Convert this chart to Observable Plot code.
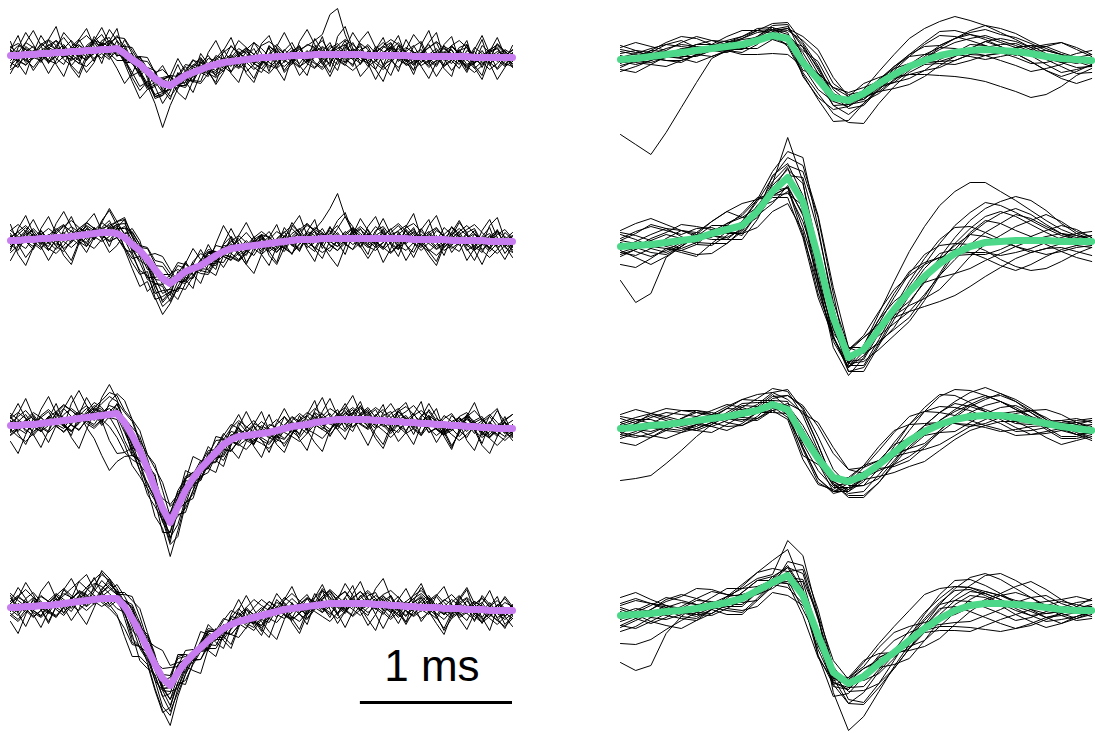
<!DOCTYPE html>
<html><head><meta charset="utf-8">
<script src="https://cdn.jsdelivr.net/npm/d3@7"></script>
<script src="https://cdn.jsdelivr.net/npm/@observablehq/plot@0.6"></script>
<style>
html,body{margin:0;padding:0;background:#fff;overflow:hidden}
#wrap{display:flex;align-items:flex-start;width:1095px;height:733px;overflow:hidden}
#wrap > svg{flex:none;max-width:none !important;height:740px !important}
</style>
</head><body><div id="wrap"></div>
<script>
// sampling interval (ms)
const leftDt = 0.05;
const rightDt = 0.1;
const rows = [0, 1, 2, 3];

// mean waveforms (0 = baseline), left column (67 samples)
const leftMean1 = [3,3,4,4,5,5,6,6,7,7,8,8,9,9,10,5,-1,-6,-13,-20,-25,-27,-22,-17,-14,-11,-8,-6,-4,-3,-2,-1,0,1,1,2,2,3,3,3,4,4,4,4,4,4,4,3,3,3,3,3,3,2,2,2,2,2,2,2,2,1,1,1,1,1,1];
const leftMean2 = [2,2,3,3,4,4,5,5,6,7,8,9,10,10,9,5,-2,-8,-17,-27,-36,-41,-35,-29,-26,-23,-18,-13,-9,-6,-5,-4,-3,-2,-1,0,1,2,3,3,3,4,4,4,4,4,4,4,4,4,4,4,4,3,3,3,3,3,2,2,2,2,2,1,1,1,1];
const leftMean3 = [1,1,2,2,3,4,5,6,7,8,9,10,11,12,13,4,-9,-24,-42,-62,-82,-96,-80,-64,-52,-42,-34,-26,-18,-13,-10,-9,-8,-7,-6,-4,-2,0,1,2,4,5,6,7,7,7,7,7,6,6,5,5,4,4,3,3,2,2,1,1,0,0,-1,-1,-2,-2,-2];
const leftMean4 = [3,3,4,4,5,5,6,7,8,9,10,11,12,12,12,4,-8,-22,-38,-54,-68,-75,-62,-52,-44,-37,-30,-24,-18,-14,-11,-9,-7,-5,-3,-1,1,2,3,4,5,6,7,7,7,7,7,7,6,6,5,5,4,4,3,3,3,2,2,2,1,1,1,0,0,0,0];

// mean waveforms, right column (32 samples)
const rightMean1 = [-1,0,2,4,6,8,10,12,14,18,23,20,-4,-21,-39,-42,-35,-25,-16,-8,-2,3,6,8,9,8,7,5,2,0,-1,-2];
const rightMean2 = [-4,-3,-2,0,2,4,9,13,17,31,51,65,41,-15,-75,-115,-107,-87,-67,-49,-34,-21,-11,-4,0,1,2,2,2,1,1,1];
const rightMean3 = [-2,-1,1,2,4,6,8,10,13,16,22,17,-9,-32,-51,-55,-49,-38,-26,-14,-5,2,7,10,11,11,9,6,3,0,-2,-4];
const rightMean4 = [-5,-4,-3,-1,0,2,5,8,12,20,28,35,15,-25,-62,-73,-66,-53,-42,-30,-18,-8,0,5,7,7,6,5,3,1,0,0];

// single-spike deviations from the mean, left column
const leftTraces1 = [
[4,-6,8,2,-9,5,12,-3,-8,6,1,-11,7,3,-5,9,-2,-12,4,8,-6,-14,3,9,-4,6,11,-2,-9,5,-7,3,10,-5,2,-8,6,13,-1,-7,4,-10,2,8,-3,-12,5,9,-6,1,12,-4,-9,3,7,-5,0,11,-2,-8,6,3,-10,5,9,-3,2],
[-3,5,-8,-2,10,4,-6,-12,2,7,-4,9,15,3,-7,-2,6,-9,-15,-4,5,2,-8,-3,7,12,-1,-6,4,-10,-3,8,1,-7,11,5,-4,-9,3,-2,7,14,2,-6,-11,4,8,-3,6,-9,-5,10,2,-7,4,12,-1,-10,-4,6,9,-5,1,-8,4,7,-2],
[9,2,-5,-13,-4,6,1,8,-3,-9,5,11,0,-6,3,-8,-16,-7,2,-3,-9,-4,6,2,-8,-12,3,7,-2,4,12,6,-5,-11,-2,5,-6,3,9,-4,-13,-3,6,11,1,-5,3,-7,-14,2,8,4,-6,10,15,-2,-8,3,-4,-12,2,6,-3,8,1,-6,-9],
[-7,-12,3,8,-2,-6,7,15,4,-3,-10,2,6,-5,8,3,-4,-10,-18,-6,4,9,-2,5,13,2,-7,3,-4,-11,5,9,-2,-8,4,12,3,-6,-12,-1,5,-3,9,4,-8,-2,11,6,-5,-12,0,7,-3,-9,2,9,14,-2,-7,5,-3,-11,-4,6,10,-1,-6],
[2,10,5,-4,3,-8,-3,4,11,2,-7,-3,9,12,-2,-9,-3,5,-7,-20,-12,-3,6,-4,-9,1,8,4,-6,2,9,-3,-11,-5,3,8,-2,4,10,-6,-3,7,-4,-10,3,12,-1,-6,9,4,-5,-12,-3,5,-6,2,8,-4,11,3,-8,-2,7,-5,-11,1,8],
[-10,-2,6,1,-5,9,3,-7,-14,-5,4,-2,-9,5,13,6,-1,8,3,-8,4,10,-5,-10,2,-3,-10,6,13,-1,-6,2,-9,-15,-3,6,1,-7,4,11,7,-4,-9,2,-5,-10,3,11,2,-4,6,13,3,-8,-2,-11,-4,5,-3,9,12,-2,-7,4,-4,8,3],
[6,-4,-11,-3,7,13,2,-5,5,12,-1,-8,-4,-10,2,7,12,4,10,6,14,8,-4,-7,5,11,-3,-8,2,7,-4,-12,-6,3,-5,-11,2,8,-3,5,-8,-13,1,6,10,-3,-9,5,-2,8,13,1,-10,-5,4,-4,-10,3,7,-5,2,-6,12,5,-2,-9,-4],
[-5,3,12,7,-2,-9,-4,3,-6,-12,2,8,3,9,-3,-6,-13,-22,-10,-16,-8,2,-5,-12,-3,4,-2,9,3,-5,6,12,4,-3,-10,-4,7,-2,-8,2,9,3,12,-4,-8,6,-1,-11,-5,3,9,-6,4,11,-2,-7,5,-9,-3,7,-4,10,4,-6,2,-8,5],
[14,-8,-20,2,18,6,-12,-24,-6,12,22,4,-14,8,20,-4,-18,-26,-10,6,-8,4,16,-6,-20,-4,14,24,6,-12,-22,-2,16,4,-14,10,24,8,-10,-20,2,18,-6,-16,6,22,10,-8,-24,-10,8,20,-2,-14,12,26,4,-12,-20,4,16,-8,-18,6,20,2,-10],
[-18,-4,12,24,8,-10,4,20,10,-8,-22,-12,6,-6,-20,-30,-14,8,-4,-18,-12,10,22,4,-10,8,-6,-18,2,16,6,-14,-24,-6,12,2,-16,-8,14,26,10,-6,-18,2,14,-4,-22,-12,6,18,-2,-16,6,22,12,-6,-20,-8,10,2,-14,8,22,4,-12,-4,12],
[6,20,-2,-16,-6,14,26,2,-14,-22,-4,14,4,20,8,-10,-22,-34,-18,-8,-20,-6,8,-10,-4,16,2,-12,12,24,4,-8,-20,-4,10,-12,-24,-2,8,-6,16,4,-12,18,28,6,-10,4,-14,-26,-6,10,-4,-18,2,14,24,-2,-14,-4,12,-10,-22,-2,14,6,-8],
[-12,8,22,10,-6,-20,-8,6,-16,-26,-8,10,22,6,-8,14,6,-6,-16,4,18,6,-12,-24,-8,10,-4,-20,-10,8,20,12,-6,14,22,2,-14,-4,-20,-10,6,-8,-22,-6,10,-2,14,24,8,-10,-20,-2,16,4,-10,-22,-6,12,20,-4,-16,2,18,-6,-22,-10,4],
[-2,-6,-10,-4,3,8,12,6,-1,-5,-9,-3,4,9,2,-6,-4,-8,-14,-25,-44,-20,-8,2,8,3,-4,-10,-6,1,7,11,4,-3,-8,-12,-5,2,6,10,14,20,40,46,20,2,-6,-3,4,9,5,-2,-8,-13,-6,1,5,10,6,-3,-9,-5,2,8,12,4,-4],
[8,12,5,-3,-7,-2,5,1,-6,-12,-16,-8,0,6,11,15,9,2,-5,-1,6,10,4,-3,-9,-14,-7,0,5,-2,-8,-3,4,12,16,9,3,-4,-11,-6,2,8,3,-5,-10,-16,-9,-2,6,13,7,-1,-6,-2,4,9,15,8,1,-4,-10,-15,-8,0,6,3,-2],
[-14,-9,-2,4,0,-7,-11,-4,3,10,15,7,-1,-8,-3,5,2,-6,-12,-18,-10,-2,5,11,6,-2,-7,-13,-8,-1,4,10,16,9,1,-5,-10,-4,3,-3,-9,-15,-7,1,7,3,-3,-8,2,10,16,11,3,-4,-9,-4,2,8,3,-5,-11,-6,1,7,13,6,0],
[5,0,-6,2,9,14,7,-2,-9,-4,3,10,6,-4,-12,-7,2,8,14,6,-3,-11,-6,3,12,7,-1,4,10,15,8,1,-5,-11,-16,-8,0,5,-1,-8,-14,-6,3,9,15,10,3,-2,-8,-14,-7,1,8,4,-3,-9,-4,4,11,16,9,2,-5,-12,-6,2,7]
];
const leftTraces2 = [
[5,-3,-9,2,8,-1,-7,4,10,3,-5,6,-2,-8,3,11,4,-6,2,-9,-15,-5,3,-4,7,12,2,-6,-1,5,-8,-3,6,10,-2,-7,3,-5,-11,2,8,-4,6,13,1,-6,-2,9,-3,-10,4,7,-5,2,11,-1,-9,-4,6,-3,8,12,-2,-7,3,-5,1],
[-8,2,7,-4,-11,3,9,1,-6,4,12,5,-3,6,-4,-10,-14,-6,-18,-8,4,9,-2,-9,3,-5,-12,-4,6,2,9,-4,-10,1,7,-3,5,12,3,-8,-3,6,-7,-12,-2,5,10,-4,3,8,-6,-11,-1,7,-3,4,11,2,-8,-2,6,-6,-12,3,9,-1,-5],
[3,9,-2,-7,5,-4,-12,-3,6,-2,-8,3,10,4,9,14,8,3,11,6,-3,5,12,3,-7,-2,5,-6,-11,-2,4,-5,3,9,-4,-10,-1,7,11,-2,-9,4,-3,6,-5,-11,3,-6,8,12,2,-7,-12,-3,5,-2,9,4,-6,-11,2,7,-4,5,11,-3,-8],
[-4,-10,3,11,2,-5,8,13,-2,-9,-3,4,-6,2,7,-2,-11,-20,-16,-24,-12,-6,-14,-5,2,-4,8,3,-5,-12,-2,6,-3,5,12,-1,-6,-13,-4,6,2,10,-3,-8,4,-2,-9,2,12,5,-4,3,-7,-13,2,8,-2,5,13,4,-5,-10,-3,6,-4,9,2],
[10,4,-3,6,-5,-12,-2,5,-4,7,3,-6,5,12,-2,2,-6,-3,-10,2,-6,-12,4,9,-3,6,-4,-10,3,8,-2,-9,5,2,-6,4,10,-5,-2,8,4,-7,-13,-2,7,1,-8,5,-3,-9,6,13,3,-4,-11,-3,4,-8,2,9,-5,3,-9,-2,7,12,3],
[-2,6,12,3,-6,2,-9,-14,-4,3,8,-3,-9,-4,5,9,13,6,-4,-14,-8,-18,-9,-3,5,-6,2,10,4,-5,-12,-4,2,-7,4,11,5,-3,3,-6,-12,2,8,-5,3,10,-2,-7,-2,6,-4,-11,4,10,-3,6,-3,-11,-5,3,-4,6,1,-8,4,-6,-11],
[7,-5,-2,-10,4,10,3,-4,-11,-5,6,2,-3,-9,-4,-12,-8,5,12,9,16,10,8,-2,4,-3,-9,-2,7,12,3,-4,9,-2,-8,-3,6,-4,-9,3,12,6,-2,3,-6,-11,-4,5,-7,2,10,-3,8,-4,-8,3,-2,12,6,-5,2,10,-3,-10,-2,4,-6],
[-6,-1,5,9,-3,-8,4,-2,2,-6,-12,-3,4,7,12,3,-4,-10,-6,-16,-22,-8,-12,-6,-10,2,-3,-8,-4,2,7,14,4,-5,3,-4,-10,2,6,-5,3,-6,11,4,-5,8,3,-8,-12,-4,2,-5,9,3,-6,7,12,2,-4,4,-10,-5,3,8,-3,2,9],
[16,-4,-18,-8,10,22,4,-12,-24,-6,12,20,2,-14,6,18,-8,-22,-32,-14,-24,-10,6,-8,-20,4,16,-2,-16,-6,12,24,8,-10,-22,-4,14,2,-12,8,20,-6,-18,-28,-8,10,-4,12,22,4,-14,-6,-22,-8,10,20,-2,-16,4,18,8,-10,-24,-6,12,-4,-16],
[-10,12,24,6,-8,-22,-10,8,20,2,-12,6,-6,-20,-12,4,16,10,-6,-20,-28,-16,-4,10,-6,-18,-4,12,26,10,-6,-18,-2,8,-12,-22,-6,14,24,4,-10,-20,-2,10,22,12,-4,-16,6,20,4,-10,12,26,2,-12,-22,-4,14,6,-8,-20,-4,16,24,2,-10],
[4,-14,-26,-8,8,-4,14,26,10,-6,-18,-4,12,22,8,-12,-24,-36,-22,-30,-18,-8,-22,-12,4,16,-2,-14,8,20,4,-16,-6,10,-8,-20,2,18,6,-10,-22,-2,12,-4,-16,4,20,8,-6,-24,-10,6,-6,-18,-2,14,24,4,-12,-2,-20,-8,10,22,4,-12,-2],
[-20,-6,8,20,4,-12,-2,-18,-28,-8,6,-6,10,24,12,20,8,-6,4,16,22,14,-4,8,20,6,-10,-20,-4,12,-6,-18,-28,-10,6,18,-2,-14,4,16,8,-10,4,18,26,6,-8,-20,-8,10,-6,-18,2,12,-4,-16,-26,-6,8,20,6,-8,4,14,-6,-18,-4],
[-6,2,9,4,-3,-10,-16,-8,1,7,12,5,-2,-9,-4,3,-5,-12,-20,-14,-6,3,-4,-12,-7,2,9,4,-3,-8,-13,-5,3,10,6,-2,-7,2,8,14,10,18,30,45,22,6,-3,-9,-4,3,9,15,7,-1,-6,-12,-5,2,8,4,-3,-9,-4,3,10,5,-2],
[10,16,8,1,-5,-1,6,12,5,-3,-9,-15,-7,2,9,4,12,6,-3,-10,-2,8,15,7,-1,-8,-14,-6,1,7,12,4,-3,-10,-4,3,9,15,7,-2,-8,-14,-9,-2,5,11,5,-2,-9,-4,2,8,13,5,-3,-10,-16,-8,0,6,11,16,8,1,-6,-1,5],
[-12,-5,3,-2,-9,-4,4,11,16,8,0,-6,2,9,3,-10,-18,-24,-12,-28,-36,-20,-10,-18,-8,1,7,2,-5,-11,-6,1,8,13,6,-1,-7,-13,-5,3,10,4,-3,-8,-2,6,12,5,-3,-9,-15,-7,1,8,3,-4,-10,-5,2,9,15,7,0,-6,-12,-4,3],
[3,9,14,6,-2,4,-4,-11,-6,2,9,3,-4,5,12,18,10,2,-6,4,12,6,-4,-10,-3,5,11,4,-3,-9,-14,-7,0,6,-1,-9,-4,4,10,16,8,1,-6,-12,-5,3,9,2,-5,-11,-4,4,11,16,8,0,-7,-2,6,12,5,-3,-10,-16,-8,1,6]
];
const leftTraces3 = [
[4,-6,3,10,-2,-9,5,12,3,-4,6,14,8,-3,10,2,-6,-2,4,-8,-12,-3,9,-4,-8,3,-6,5,11,-2,-7,4,-3,8,2,-6,-11,-3,5,9,-2,-8,3,-5,4,10,-1,-6,6,-3,-10,2,7,-4,3,-9,-3,6,12,1,-5,3,-8,5,-2,7,-4],
[-3,5,-7,-2,6,11,-3,-8,2,7,12,3,-5,-26,-40,-30,-12,-3,8,4,-6,10,14,6,-3,-10,-2,6,-4,3,9,-5,-10,2,-3,6,12,-2,-8,4,-5,3,7,-6,-12,-2,5,10,-3,4,-7,-11,2,9,-2,5,-4,-9,3,-3,8,4,-6,-10,2,6,-1],
[8,2,-5,-11,-3,4,-2,6,11,4,-3,-8,2,9,5,-8,-16,-20,-14,-10,-6,-15,-18,-9,-2,4,-3,-9,2,8,3,-5,2,-7,-12,-4,4,-3,6,12,5,-2,-9,-3,7,2,-5,4,11,-3,-9,-2,5,-5,8,12,2,-6,-3,-11,-2,4,9,-2,-8,3,-5],
[-7,-2,4,8,-4,-10,-3,3,-5,-12,-2,5,12,18,12,10,14,8,6,12,4,-2,5,12,6,-2,-8,2,-5,-12,-4,3,9,-3,6,11,2,-7,-2,-9,4,8,-4,6,12,2,-5,-10,-2,5,10,-4,-8,3,-2,7,-5,-10,4,8,-3,6,11,-2,-6,3,8],
[2,9,14,5,-3,6,-5,-11,-4,3,9,2,-6,3,-3,-10,-14,-12,-16,-10,-8,-2,-10,-18,-12,-6,2,-6,-10,3,8,-3,-9,4,-2,-7,3,10,4,-4,2,-6,-11,3,9,-2,6,12,3,-5,-12,-3,4,-4,2,8,-5,-11,-2,6,3,-7,5,11,2,-4,-9],
[-10,-4,3,-3,8,13,4,-5,-12,-2,4,8,3,6,-2,4,8,14,10,5,-4,8,16,12,4,8,-3,-10,-4,5,-2,8,14,3,-6,-2,-10,-4,3,-5,10,4,-3,-10,2,7,-4,-9,3,-2,8,13,2,-6,-10,3,-3,9,4,-5,-11,2,-4,6,-3,-8,4],
[5,-3,-9,2,6,-2,8,3,-6,-11,-3,7,2,-4,4,-6,-10,-4,-2,-8,-14,-10,-4,-12,-16,-8,-12,-3,4,-2,-9,-4,5,12,4,-3,3,-5,-12,-3,6,-2,3,10,-4,-8,2,-3,5,11,4,-4,3,-7,-12,-2,6,1,-5,4,11,5,-2,-7,2,-5,3],
[-5,4,10,-2,-8,3,-4,-12,-5,6,2,9,4,-3,-6,-18,-20,-8,-4,6,-8,-20,2,10,-4,6,3,-5,-12,-3,6,-2,-7,4,-5,-11,-2,5,-3,3,9,-4,-2,6,-5,-12,4,8,-6,2,-4,10,4,-2,5,-9,-4,3,-5,9,14,2,-4,-9,-2,6,-3],
[10,-8,-20,-4,14,26,8,-6,16,28,12,-4,18,30,14,-2,-20,-10,4,-12,-24,-10,8,20,4,-12,2,16,6,-10,-22,-6,10,22,2,-14,-24,-8,6,-6,12,24,4,-10,-20,-2,14,-4,-18,-28,-8,10,2,-12,6,20,8,-8,-22,-6,10,24,6,-10,-2,12,-6],
[-16,-28,-10,6,-6,-20,-4,12,24,6,-10,-22,-40,-56,-48,-34,-20,-10,2,14,-4,-16,-6,10,22,8,-8,-20,-6,12,22,6,-10,4,18,-4,-18,-8,10,-6,-20,-30,-10,4,16,2,-12,-26,-8,8,18,6,-10,-22,-2,14,4,-12,-24,-4,12,-2,-16,4,18,6,-8],
[8,22,6,-10,-24,-8,10,-4,-16,4,20,6,-8,12,20,22,16,20,14,24,18,6,-8,-22,-12,4,14,-2,-16,-6,10,24,8,-6,-20,-4,12,2,-14,-26,-6,10,22,4,-10,6,18,-2,-14,-24,-4,12,20,2,-12,4,16,-6,-20,-8,10,-4,-18,-26,-8,8,14],
[-6,12,26,8,-8,4,18,-2,-18,-30,-12,4,-10,-2,-16,-22,-30,-26,-20,-28,-20,-34,-24,-12,-20,-6,8,-8,-22,-4,14,4,-12,-24,-6,8,20,4,-10,10,22,-2,-16,-4,12,24,6,-8,4,16,-6,-20,-10,8,22,-4,-18,-6,10,2,-14,-24,-4,12,20,-2,-12],
[-9,-3,5,12,6,-2,8,15,9,1,-6,-12,-5,3,9,2,-12,-20,-26,-18,-12,-22,-30,-14,-4,4,10,3,-5,-11,-4,4,11,6,-2,-9,-15,-7,1,8,14,7,-1,-7,-2,5,11,4,-4,-10,-16,-8,0,7,13,6,-2,-8,-3,4,10,16,8,0,-6,-12,-5],
[7,13,6,-2,-8,-3,3,-4,-11,-5,2,9,15,22,18,12,16,10,14,20,26,16,8,0,-6,-1,6,12,5,-2,-8,-14,-6,1,8,3,-4,-10,-16,-9,-2,5,12,6,-1,-7,-2,6,13,7,0,-5,-11,-6,1,8,3,-3,-9,-15,-8,0,7,13,6,-2,-7],
[-4,-11,-17,-9,-1,6,1,-6,-12,-4,4,11,6,-2,5,-2,-8,-14,-20,-12,-4,6,10,14,6,-2,-8,-2,5,11,16,9,2,-4,-10,-4,3,9,2,-5,-11,-17,-9,-1,6,12,5,-2,-8,-3,4,10,16,8,1,-5,-11,-5,2,8,3,-4,-10,-4,3,9,14],
[12,6,-1,-7,-2,5,10,16,9,2,-4,-10,-4,-12,-24,-30,-24,-14,-6,2,10,18,12,2,-6,-12,-4,3,9,15,8,1,-5,-10,-16,-8,-1,6,12,5,-2,-8,-14,-6,1,7,13,6,0,-6,-2,5,11,17,9,2,-4,-10,-5,1,7,2,-5,-11,-17,-9,-2]
];
const leftTraces4 = [
[3,-5,8,14,4,-3,6,-2,-9,2,10,16,12,5,-3,-8,-12,-6,2,-5,-10,-14,-4,2,-5,-12,-3,5,-2,8,3,-4,-10,-2,5,-6,3,10,2,-5,4,-8,-3,6,12,-1,-7,3,-4,-10,2,9,-3,4,12,3,-6,-11,-2,5,-4,8,3,-6,2,-3,5],
[-8,-2,5,-4,-11,3,9,2,-6,5,-3,8,18,10,4,-6,-20,-14,-8,-12,-18,-8,4,-3,-8,-2,6,-5,-11,-4,4,10,3,-4,-9,2,7,-3,5,-8,-2,8,13,3,-6,5,-3,-9,-2,8,4,-5,-10,3,-4,6,11,2,-8,-3,9,-2,-8,4,10,2,-5],
[6,12,3,-4,2,-7,-13,-3,4,9,3,-5,2,8,14,10,8,4,12,6,-2,8,14,6,-2,4,-4,-11,-3,6,-2,-9,3,8,-3,4,12,5,-2,-8,3,-4,-11,-2,6,-4,5,11,2,-6,-3,-10,2,8,-2,-7,4,-3,6,13,3,-5,4,-3,-10,-2,6],
[-4,4,-2,-10,-5,5,11,4,-3,-9,-2,4,-4,-10,-18,-22,-26,-14,-10,-16,-12,-6,-16,-8,2,-4,-10,-2,4,-5,2,-6,-13,-4,6,2,-5,-10,3,8,-3,5,10,-3,-8,2,-6,-12,4,9,-2,5,-4,-9,3,10,-2,-6,4,-5,-11,2,7,-3,5,12,2],
[9,2,-6,3,10,4,-5,-12,-3,6,2,-4,6,14,8,2,-4,2,6,-6,-10,-2,8,4,-4,2,8,-3,-9,2,9,-2,-6,4,12,3,-4,2,-7,-13,-4,4,-2,7,12,3,-6,-2,6,-5,-12,-2,5,-3,7,12,1,-6,2,-9,-3,5,12,3,-7,-3,4],
[-6,-12,-3,6,-2,-8,3,10,5,-3,-10,-4,4,-2,-10,-6,4,10,4,-4,-12,-20,-10,-4,4,-3,-9,4,10,3,-5,2,-4,-10,-3,4,-6,-12,-5,3,-4,6,12,2,-6,-12,-2,5,-4,3,10,-3,-9,-2,6,-5,-11,2,9,3,-4,-10,-2,8,-2,-6,3],
[4,10,5,-4,-10,-2,6,-3,3,11,6,-2,10,16,6,-2,-8,-16,-12,-4,-8,-14,-12,-18,-10,-4,3,-6,-3,7,13,2,-6,3,-5,-11,-4,4,-2,8,3,-5,-2,-10,-4,5,12,2,-5,3,-4,-12,-3,4,10,-2,-8,3,-6,4,11,-2,-10,-3,5,-2,-8],
[-2,-8,2,9,3,-6,-12,-4,5,-3,4,10,3,-6,2,6,10,6,14,8,4,10,16,8,-2,6,12,4,-3,-10,-4,3,-5,-10,2,9,4,-4,6,12,-2,-8,3,-4,-10,2,-3,8,12,-2,-7,4,-5,-10,-3,5,-2,9,4,-6,3,-5,-12,-2,6,2,-4],
[12,-6,-20,-4,14,24,6,-10,4,20,26,10,28,20,4,-12,-24,-14,-4,-16,-28,-30,-16,-4,-16,-26,-8,6,-8,-20,-4,12,2,-14,-24,-6,10,22,4,-12,-2,14,-6,-20,-8,10,22,4,-10,-24,-8,6,18,2,-14,-4,12,22,4,-10,-20,-4,14,6,-8,-18,-2],
[-14,-26,-8,8,-4,-18,-2,14,24,8,-6,14,24,18,6,14,18,24,16,10,-8,4,18,8,-6,4,16,2,-12,-24,-6,10,-2,-16,4,18,6,-10,-22,-4,12,-2,-14,4,20,8,-8,-22,-10,6,-6,-18,-2,12,24,6,-10,-20,-4,12,4,-12,6,20,2,-14,-6],
[6,20,8,-8,-22,-6,10,-4,-18,-8,10,22,6,-6,-16,-30,-38,-24,-16,-26,-34,-22,-10,-22,-8,4,-10,-22,-6,10,22,6,-8,-20,-4,12,2,-14,-26,-8,8,20,2,-12,6,18,-4,-16,-26,-6,10,-4,-16,6,20,8,-8,-22,-10,8,20,-2,-14,4,14,-6,-16],
[-4,10,24,12,-4,-16,-2,14,4,-12,-24,-8,8,20,10,4,12,4,-6,2,10,18,6,-10,2,16,6,-8,-20,-4,12,24,8,-6,-18,-28,-10,6,-6,-18,2,16,6,-10,-24,-8,8,-2,16,26,8,-6,-18,-4,10,-4,-16,-26,-6,10,22,6,-8,-20,2,14,4],
[-8,-14,-6,2,9,4,-3,-9,-2,6,13,20,26,16,6,-6,-16,-28,-20,-10,-18,-26,-20,-12,-4,4,10,3,-4,-10,-16,-8,0,6,12,5,-2,-8,-14,-6,1,8,14,7,0,-6,-12,-4,3,10,15,8,1,-5,-11,-5,2,8,14,6,-1,-7,-13,-6,1,8,4],
[4,11,17,9,1,-5,-11,-4,3,10,5,-2,-8,-3,4,12,22,16,8,18,28,20,10,2,-6,-12,-6,1,8,14,7,0,-6,-12,-5,2,9,15,7,0,-6,-12,-18,-9,-1,6,12,5,-2,-8,-14,-6,1,8,14,7,0,-6,-1,6,12,5,-2,-8,-14,-6,2],
[-3,3,-4,-11,-5,2,9,15,7,0,-6,-1,6,12,4,-6,-2,-10,-14,-24,-32,-40,-24,-12,-4,3,9,3,-4,-10,-4,3,10,16,8,1,-5,-11,-6,1,8,14,6,-1,-7,-13,-6,2,9,4,-3,-9,-15,-7,1,7,13,6,-1,-7,-2,5,11,4,-3,-9,-3],
[14,7,0,-6,-12,-5,2,8,14,20,12,4,-2,-8,-2,6,14,10,4,-4,-10,-2,6,12,5,-2,-8,-14,-7,0,6,12,18,10,3,-3,-9,-4,3,9,4,-3,-9,-15,-8,0,7,13,6,-1,-7,-2,5,11,17,9,2,-4,-10,-4,2,8,3,-4,-10,-16,-8]
];

// single-spike deviations from the mean, right column
const rightTraces1 = [
[-75,-86,-98,-78,-55,-32,-10,-4,2,-3,4,-2,-8,6,10,4,-3,-8,-5,2,6,8,4,-2,-6,-3,4,8,3,-2,-4,1],
[6,8,4,10,12,3,-2,2,-4,3,6,12,15,6,-4,-6,-4,2,8,12,14,10,14,16,12,8,4,-2,-8,-14,-10,-5],
[-3,2,6,3,-4,-6,-2,4,6,8,5,10,18,10,2,-4,-8,-10,-6,-2,2,6,10,12,14,10,6,2,-2,-4,-2,3],
[4,-2,-6,-3,2,-4,-8,-5,-1,2,-4,-6,-10,-14,-16,-22,-30,-20,-12,-6,-4,-8,-12,-10,-6,-2,4,8,10,6,2,-2],
[-6,-3,2,6,8,4,0,-3,-5,-2,3,8,22,24,14,6,2,4,6,3,-2,-6,-8,-4,2,6,8,4,-3,-8,-14,-12],
[2,5,8,10,6,2,-2,-4,-2,1,-2,-6,2,6,10,8,6,2,-4,-8,-10,-12,-8,-4,-6,-10,-14,-18,-12,-6,2,6],
[-2,-6,-4,-1,3,6,8,5,2,4,8,6,-4,-10,-4,4,10,6,2,-2,4,10,14,18,20,16,14,10,6,4,-2,-6],
[8,4,-2,-6,-8,-5,-2,2,5,3,0,3,10,2,-8,-14,-10,-6,-2,2,-2,-6,-4,2,8,12,10,6,12,16,10,4],
[-4,2,4,-2,-5,-2,3,6,8,10,6,4,12,18,8,-2,-6,-4,-8,-12,-10,-4,0,6,4,-2,-6,-10,-6,0,6,10],
[12,16,10,4,10,14,8,2,6,10,12,16,20,14,2,-4,4,12,20,28,32,34,36,30,24,18,12,6,0,-4,-8,-6],
[-10,-14,-8,-2,-6,-12,-8,-4,-10,-14,-18,-16,-4,6,2,-8,-12,-6,-2,-8,-14,-20,-24,-28,-32,-36,-40,-44,-38,-28,-16,-8],
[-8,-2,6,12,16,12,4,-4,-8,-4,4,10,26,30,20,4,-6,-2,6,12,18,24,22,16,10,4,-2,-8,-14,-20,-24,-18],
[14,8,0,-6,-10,-4,4,10,14,10,2,-8,-12,-20,-24,-20,-10,-4,4,10,16,20,16,10,4,0,-4,4,10,16,12,6],
[10,6,2,-2,2,6,4,0,-4,-8,-4,2,-14,-18,-12,-6,0,4,8,10,6,2,-2,-6,-10,-6,-2,2,6,4,0,-4],
[-12,-8,-4,0,4,2,-2,-6,-2,4,10,14,6,-2,-8,-4,2,-2,-8,-4,2,8,14,20,24,22,18,12,8,4,2,0],
[2,-4,-8,-12,-8,-4,0,4,8,12,8,-2,16,12,4,0,-4,-8,-14,-18,-16,-10,-4,2,8,4,-2,-8,-14,-18,-12,-4]
];
const rightTraces2 = [
[-34,-57,-49,-15,-6,2,-4,6,8,4,-10,-14,-20,-10,6,8,12,6,-4,-10,-6,2,10,18,26,30,24,16,8,2,-4,-6],
[8,14,18,12,6,10,6,-4,-8,-2,8,40,20,-14,-20,-10,-6,-12,-20,-26,-20,-10,4,14,22,18,10,4,-4,-10,-16,-20],
[-6,-10,-4,4,10,6,-2,-8,-4,4,10,12,30,40,24,-8,-16,-10,-2,6,12,20,28,34,40,36,28,20,12,6,2,-2],
[4,-2,-8,-12,-6,2,8,4,-2,-6,-4,-10,-26,-20,-18,-14,-18,-14,-6,2,8,10,4,-6,-16,-24,-30,-24,-16,-8,-4,2],
[-10,-4,4,8,2,-4,-10,-14,-6,4,6,8,18,6,-12,-6,4,10,16,20,14,6,-2,-8,-12,-8,-2,4,10,16,12,4],
[12,6,-2,-6,-10,-6,2,6,10,12,-4,-16,-4,-2,-6,-14,-22,-16,-10,-4,0,4,8,12,6,0,-6,-10,-14,-10,-6,-4],
[-2,4,10,14,10,2,-6,-10,-2,6,2,2,24,26,16,10,2,-6,-14,-20,-18,-12,-6,2,10,18,26,22,14,8,4,6],
[2,-6,-12,-8,-2,6,12,18,8,-4,-12,-8,-14,-6,10,-4,-10,-4,2,10,18,24,26,20,10,2,-6,-12,-8,-2,2,-2],
[-8,-4,2,-2,-8,-4,4,-2,-10,-2,16,14,6,-22,-30,-18,-8,0,-6,-14,-22,-26,-20,-10,-2,6,14,20,26,20,10,4],
[16,22,26,18,10,4,-2,4,12,14,-4,-10,-12,-30,-20,-10,4,16,28,40,50,58,62,64,60,50,40,30,20,12,6,2],
[-18,-22,-14,-6,-12,-18,-10,-2,-8,-16,-20,-26,-30,-36,-16,6,12,4,-8,-20,-30,-38,-42,-40,-34,-26,-18,-12,-8,-6,-10,-14],
[6,12,20,14,4,-6,-12,-6,4,10,14,20,36,42,30,10,-4,-14,-18,-12,-4,6,16,26,34,40,44,40,30,18,8,2],
[-4,-12,-20,-14,-6,4,12,18,22,12,0,-10,-34,-28,-24,-10,-2,6,12,18,22,18,10,2,-8,-18,-26,-30,-28,-20,-12,-6],
[14,10,4,-4,-10,-16,-20,-14,-4,6,-6,-20,-36,-40,-20,-6,4,10,8,2,-6,-14,-20,-22,-18,-12,-6,0,4,8,6,2],
[-6,-2,6,10,16,12,4,-2,4,12,20,26,44,30,10,-6,-12,-20,-26,-30,-24,-12,0,12,20,28,32,26,16,8,2,-2],
[6,2,-4,-10,-4,2,-2,-10,-14,-8,2,10,-10,-24,-12,8,14,18,20,16,12,6,0,-6,-10,-14,-12,-8,-2,4,8,10]
];
const rightTraces3 = [
[-52,-51,-50,-39,-28,-16,-6,2,-4,-8,-6,4,10,6,-4,-8,-2,4,8,2,-4,-8,-12,-6,2,8,12,8,2,-4,-6,-2],
[6,10,12,8,2,-4,-8,-4,2,6,12,20,26,14,-4,-10,-6,2,10,16,20,18,12,6,-2,-8,-14,-10,-4,2,6,10],
[-6,-10,-8,-2,4,8,4,-2,-6,-10,-6,2,-8,-12,-10,-6,-2,-6,-12,-16,-14,-8,-2,4,10,14,10,4,-4,-10,-8,-2],
[2,-2,-6,-2,4,10,6,0,-4,2,8,14,30,32,24,12,8,4,-2,-8,-12,-6,2,10,16,22,18,12,4,-2,-6,-10],
[10,4,-2,-6,-10,-8,-4,2,8,4,-2,-8,-12,-20,-14,-6,-10,-14,-8,-2,6,12,16,10,4,-2,-6,-4,2,6,10,8],
[-2,4,8,12,8,4,-4,-10,-12,-6,2,4,6,2,-8,-14,-20,-18,-12,-6,-2,4,8,12,6,0,-4,-2,2,6,4,0],
[-10,-6,-2,2,-2,-8,-4,4,10,8,2,-6,-20,-6,-2,4,10,18,22,16,8,2,-4,-8,-12,-16,-12,-6,-2,2,6,4],
[4,8,6,0,-6,-10,-6,0,6,12,16,18,20,8,-6,-12,-16,-10,-4,2,6,2,-4,-10,-8,-2,4,10,14,12,6,2],
[-4,-8,-12,-6,0,4,8,12,6,-2,-8,-4,4,-4,-14,-10,-2,4,-2,-8,-4,4,10,16,20,14,8,2,-6,-12,-10,-4],
[14,18,12,6,0,-6,0,8,14,16,12,10,22,36,30,12,2,-4,2,10,20,28,30,26,20,14,8,4,2,4,8,12],
[-14,-18,-12,-4,4,-2,-8,-14,-10,-2,4,8,-12,-20,-16,-8,-4,-12,-20,-26,-30,-26,-20,-14,-10,-6,-4,-8,-14,-18,-12,-6],
[6,-2,-10,-14,-10,-4,4,10,14,10,4,-4,-14,-24,-14,-2,8,14,20,24,20,12,4,-4,-10,-14,-18,-14,-8,-2,4,10],
[-6,4,12,16,12,8,2,-6,-12,-8,-4,6,24,14,-6,-16,-22,-18,-10,-2,6,12,18,24,28,22,16,8,0,-4,-2,2],
[12,8,2,-4,-8,-4,2,8,4,-2,-6,-10,-24,-26,-12,2,10,4,-4,-12,-18,-20,-16,-10,-4,2,6,10,6,0,-4,-8],
[-8,-4,2,8,12,10,4,-2,-8,-2,6,14,28,22,8,-4,-10,-4,6,16,24,30,24,14,4,-4,-10,-14,-10,-4,2,6],
[2,6,10,4,-4,-10,-14,-8,-2,4,10,2,6,-4,-8,-2,4,-4,-14,-20,-16,-6,4,12,18,20,16,10,4,-2,-6,-2]
];
const rightTraces4 = [
[-47,-56,-52,-22,-6,4,2,-4,-8,-2,6,8,4,-8,-6,2,8,4,-2,-8,-4,4,10,14,10,4,-2,-6,-10,-6,-2,2],
[-28,-30,-26,-18,-10,-4,2,6,4,0,2,8,22,16,6,-4,-10,-6,2,10,16,20,24,18,10,4,-4,-10,-14,-10,-6,-2],
[12,16,10,4,-2,-6,-2,6,10,12,8,35,40,20,-20,-47,-40,-28,-14,-4,2,8,14,20,28,30,24,16,8,2,-2,-6],
[-6,-2,4,10,14,20,16,8,2,-4,-2,4,-6,-14,-10,-4,2,8,12,8,2,-6,-12,-16,-12,-6,2,8,12,6,2,-2],
[4,-4,-10,-6,2,8,4,-2,-6,-2,4,10,6,-10,-4,6,10,16,20,14,6,0,-4,-2,4,10,18,24,18,10,4,0],
[-10,-14,-8,-2,4,10,14,8,2,-4,-6,-2,16,20,12,4,-4,-10,-6,2,-4,-12,-20,-26,-22,-16,-10,-4,2,8,6,2],
[8,2,-4,-8,-4,2,8,14,10,4,-2,-12,-8,4,-12,-20,-16,-8,-2,4,10,16,20,16,8,0,-6,-10,-6,-2,2,6],
[-2,4,10,6,0,-6,-10,-6,-2,4,2,-6,14,2,-10,-6,2,6,2,-6,-12,-8,-2,6,12,8,2,-4,-10,-14,-8,-2],
[2,6,2,-4,-8,-12,-8,-2,6,10,6,-4,-14,-4,-6,4,8,2,-4,2,8,14,10,4,-4,-10,-16,-12,-4,2,8,10],
[18,22,14,6,-2,-8,-4,4,12,18,14,4,-4,-20,-12,4,14,20,26,30,34,30,24,18,12,8,4,2,6,10,14,10],
[-16,-12,-4,4,8,4,-4,-12,-16,-10,-2,4,26,18,-6,-20,-28,-24,-16,-8,-2,-8,-16,-22,-26,-28,-24,-18,-10,-4,2,4],
[6,0,-8,-14,-18,-12,-4,6,14,18,22,26,8,-20,-24,-10,0,6,2,-4,4,14,22,28,30,24,16,8,0,-6,-10,-8],
[-10,-4,4,12,16,10,2,-6,-12,-16,-10,-20,-10,4,-4,-8,-14,-20,-16,-8,2,10,4,-6,-14,-20,-24,-20,-12,-4,4,12],
[-12,-6,0,6,2,-4,-8,-2,6,10,2,-8,-20,-22,-8,6,16,10,0,-10,-18,-20,-14,-6,2,8,12,8,2,-4,-8,-4],
[10,14,10,2,-6,-10,-4,2,-4,-10,-4,14,30,26,4,-16,-26,-20,-8,4,14,24,30,26,18,10,2,-4,-6,-2,2,4],
[-4,2,8,14,10,4,-2,-8,-14,-8,0,-8,2,-6,-14,-6,4,-4,-12,-18,-12,-2,6,10,6,-2,-10,-16,-20,-14,-6,0]
];

// 1 ms scale bar (drawn in the last left panel)
const scaleBar = [{row: 3, t0: 2.3, t1: 3.3, v: -92, label: "1 ms", labelT: 2.77, labelV: -70}];

const purple = "#c77cf0";
const green = "#4cd888";

function buildTables(means, traceSets, dt) {
  const traces = [], avg = [];
  means.forEach((m, r) => {
    traceSets[r].forEach((dev, k) => {
      dev.forEach((d, i) => {
        if (i < m.length) traces.push({row: r, id: r * 100 + k, t: i * dt, v: m[i] + d});
      });
    });
    m.forEach((v, i) => avg.push({row: r, t: i * dt, v}));
  });
  return {traces, avg};
}

const L = buildTables([leftMean1, leftMean2, leftMean3, leftMean4],
  [leftTraces1, leftTraces2, leftTraces3, leftTraces4], leftDt);
const R = buildTables([rightMean1, rightMean2, rightMean3, rightMean4],
  [rightTraces1, rightTraces2, rightTraces3, rightTraces4], rightDt);

const common = {
  height: 740,
  marginTop: 0,
  marginBottom: 4,
  y: {domain: [-126, 58], axis: null},
  fy: {domain: rows, axis: null, padding: 0, round: false},
  facet: {marginTop: 0, marginBottom: 0, marginLeft: 0, marginRight: 0},
  style: {background: "transparent", overflow: "visible"}
};

const left = Plot.plot({
  ...common,
  width: 560,
  marginLeft: 10,
  marginRight: 48,
  x: {domain: [0, (leftMean1.length - 1) * leftDt], axis: null},
  marks: [
    Plot.line(L.traces, {x: "t", y: "v", z: "id", fy: "row", stroke: "black", strokeWidth: 1, strokeLinejoin: "miter"}),
    Plot.line(L.avg, {x: "t", y: "v", fy: "row", stroke: purple, strokeWidth: 7, strokeLinejoin: "round"}),
    Plot.ruleY(scaleBar, {y: "v", x1: "t0", x2: "t1", fy: "row", stroke: "black", strokeWidth: 3}),
    Plot.text(scaleBar, {x: "labelT", y: "labelV", fy: "row", text: "label", fontSize: 44,
      fontFamily: "Liberation Sans, Arial, sans-serif", fill: "black", lineAnchor: "bottom"})
  ]
});

const right = Plot.plot({
  ...common,
  width: 535,
  marginLeft: 60,
  marginRight: 3.8,
  x: {domain: [0, (rightMean1.length - 1) * rightDt], axis: null},
  marks: [
    Plot.line(R.traces, {x: "t", y: "v", z: "id", fy: "row", stroke: "black", strokeWidth: 1, strokeLinejoin: "miter"}),
    Plot.line(R.avg, {x: "t", y: "v", fy: "row", stroke: green, strokeWidth: 7, strokeLinejoin: "round"})
  ]
});

document.getElementById("wrap").append(left, right);
</script>
</body></html>
